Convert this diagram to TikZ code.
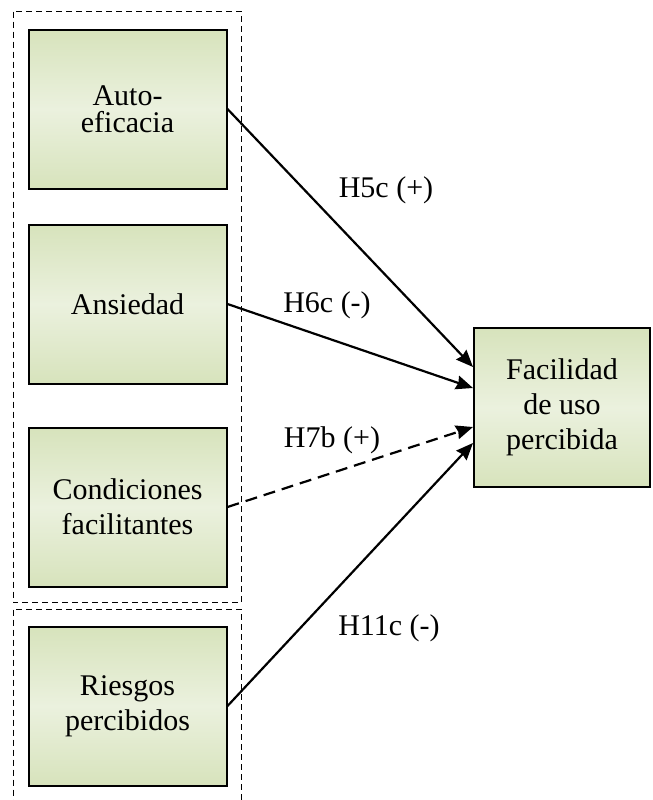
\documentclass[tikz,border=0pt]{standalone}
\usepackage{fontspec}
\setmainfont{Liberation Serif}
\usepackage{tikz}
\usetikzlibrary{positioning,arrows.meta}

\definecolor{boxgreen}{HTML}{D7E3BC}
\definecolor{boxlight}{HTML}{EBF1DE}

\begin{document}
\begin{tikzpicture}[%
            x=0.5pt,
            y=-0.5pt,
            ->,
            >={Stealth[length=8.5pt,width=7pt,inset=0.8pt]},
            line width=1.1pt,
            font=\fontsize{15pt}{17.5pt}\selectfont,
            factor/.style={%
            	rectangle,
            	line width=1pt,
            	minimum width=99pt,
            	minimum height=79.5pt,
            	align=center,
            	top color=boxgreen,
            	bottom color=boxgreen,
            	middle color=boxlight,
            	draw
            },
            frame/.style={%
            	-,
            	line width=0.5pt,
            	dash pattern=on 3pt off 2pt
            },
            hyp/.style={%
            	anchor=base
            }
            ]
            \useasboundingbox (0,0) rectangle (653,800);

            \node[factor] (auto) at (127.5,109)            {Auto-\\[-4pt]eficacia};
            \node[factor] (ansiedad) [below=17pt of auto]  {Ansiedad};
            \node[factor] (condiciones) [below=21pt of ansiedad] {Condiciones\\facilitantes};
            \node[factor] (riesgos) [below=19pt of condiciones]  {Riesgos\\percibidos};
            \node[factor, minimum width=88pt] (facilidad) at (562,407.5) {Facilidad\\de uso\\percibida};

            % dashed groups
            \draw[frame] ([xshift=-7pt,yshift=8.5pt]auto.north west) rectangle ([xshift=7pt,yshift=-7.5pt]condiciones.south east);
            \draw[frame] ([xshift=-7pt,yshift=8pt]riesgos.north west) rectangle ([xshift=7pt,yshift=-12pt]riesgos.south east);

            \path (auto.east) edge (facilidad.west |- 0,367)
            (ansiedad.east) edge (facilidad.west |- 0,388)
            (condiciones.east) edge[dash pattern=on 6pt off 3.5pt] (facilidad.west |- 0,427)
            (riesgos.east) edge (facilidad.west |- 0,443);

            \node[hyp] (h5c) at (386,197)  {H5c (+)};
            \node[hyp] (h6c) at (327,312)  {H6c (-)};
            \node[hyp] (h7b) at (332,447)  {H7b (+)};
            \node[hyp] (h11c) at (389,635) {H11c (-)};
            \end{tikzpicture}
\end{document}
